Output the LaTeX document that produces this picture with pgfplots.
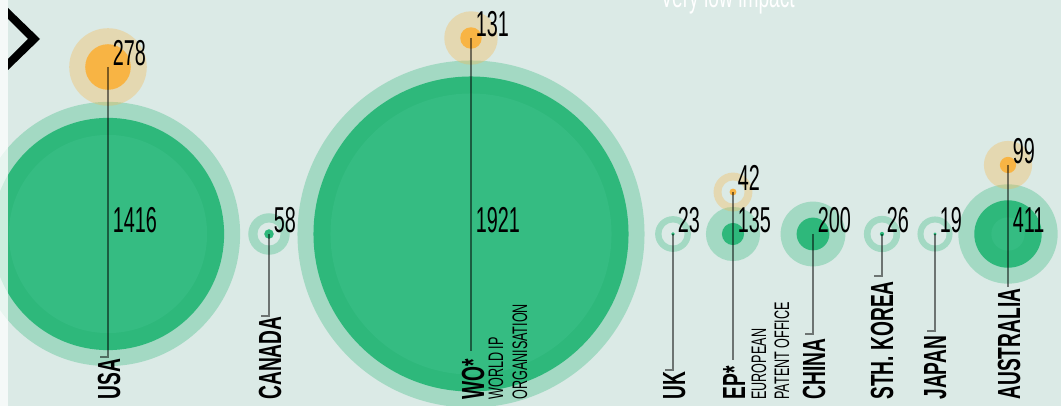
\documentclass[border=0pt]{standalone}
\usepackage{pgfplots}
\pgfplotsset{compat=1.18}
\usepackage{pgfplotstable}
\usepackage{fontspec}
\setmainfont{Liberation Sans}
\newfontfamily\numfont[FakeStretch=0.55]{Liberation Sans}
\newfontfamily\labfont[FakeStretch=0.6]{Liberation Sans Bold}
\newfontfamily\smallfont[FakeStretch=0.6]{Liberation Sans}
\definecolor{bgc}{HTML}{DBEAE6}
\definecolor{grn}{HTML}{2EB87B}
\definecolor{grnin}{HTML}{35BC82}
\definecolor{org}{HTML}{F8B444}

% x, y in pixels (y from top); v = value, bubble radius = 0.082 px per unit
\pgfplotstableread{
name x y v
USA 108 234 1416
CAN 269 234 58
WO 471 234 1921
UK 673 234 23
EP 733 234 135
CHN 813 234 200
KOR 882 234 26
JPN 935 234 19
AUS 1008 234 411
}\greentab
\pgfplotstableread{
name x y v
USA 108 67 278
WO 471 38 131
EP 733 192 42
AUS 1008 165 99
}\orangetab

\pgfplotsset{
  bub/.style 2 args={scatter, only marks, mark=*, point meta=\thisrow{v},
    visualization depends on={\thisrow{v} \as \val},
    scatter/use mapped color={draw opacity=0, line width=0pt, fill=#1, fill opacity=#2}},
  leader/.style={no marks, draw=black, draw opacity=0.5, line width=0.6pt},
  numlab/.style={only marks, mark=none, point meta=explicit symbolic,
    nodes near coords, nodes near coords align={anchor=base west},
    every node near coord/.append style={anchor=base west, inner sep=0pt,
      xshift=2.25pt, yshift=0.6pt, text=black,
      font=\numfont\fontsize{18}{20}\selectfont}},
}

\begin{document}
\begin{tikzpicture}
\begin{axis}[
  scale only axis, width=530.5pt, height=203pt,
  xmin=0, xmax=1061, ymin=0, ymax=406, y dir=reverse,
  axis line style={draw=none}, ticks=none,
  axis background/.style={fill=bgc},
  clip=true, clip marker paths=true,
]
% light halos (green)
\addplot[bub={grn}{0.32},
  scatter/@pre marker code/.append style={/tikz/mark size={\val*0.041+8}}]
  table[x=x,y=y]{\greentab};
% hollow centres for small values
\addplot[bub={bgc}{1}, restrict expr to domain={\thisrow{v}}{0:60},
  scatter/@pre marker code/.append style={/tikz/mark size=5.75}]
  table[x=x,y=y]{\greentab};
% light halos (orange)
\addplot[bub={org}{0.32},
  scatter/@pre marker code/.append style={/tikz/mark size={\val*0.041+8}}]
  table[x=x,y=y]{\orangetab};
\addplot[bub={bgc}{1}, restrict expr to domain={\thisrow{v}}{0:60},
  scatter/@pre marker code/.append style={/tikz/mark size=5.75}]
  table[x=x,y=y]{\orangetab};
% solid discs
\addplot[bub={grn}{1},
  scatter/@pre marker code/.append style={/tikz/mark size={\val*0.041}}]
  table[x=x,y=y]{\greentab};
\addplot[bub={grnin}{1}, restrict expr to domain={\thisrow{v}}{300:5000},
  scatter/@pre marker code/.append style={/tikz/mark size={\val*0.041-8.5}}]
  table[x=x,y=y]{\greentab};
\addplot[bub={org}{1},
  scatter/@pre marker code/.append style={/tikz/mark size={\val*0.041}}]
  table[x=x,y=y]{\orangetab};
% leader lines
\addplot[leader] coordinates {(108,67) (108,357) (100,357)};
\addplot[leader] coordinates {(269,234) (269,316) (261,316)};
\addplot[leader] coordinates {(471,38) (471,351)};
\addplot[leader] coordinates {(673,234) (673,370) (665,370)};
\addplot[leader] coordinates {(733,192) (733,360)};
\addplot[leader] coordinates {(813,234) (813,334) (805,334)};
\addplot[leader] coordinates {(882,234) (882,276) (874,276)};
\addplot[leader] coordinates {(935,234) (935,331) (927,331)};
\addplot[leader] coordinates {(1008,165) (1008,287)};
% value labels
\addplot[numlab] table[x=x,y=y,meta=v]{\greentab};
\addplot[numlab] table[x=x,y=y,meta=v]{\orangetab};
% left strip and chevron
\addplot[draw=none, fill=white, fill opacity=0.75] coordinates {(0,0) (8,0) (8,406) (0,406)};
\addplot[draw=none, fill=black] coordinates {(8,8) (40,39) (8,70) (8,59) (28,39) (8,19)};
% country labels
\begin{scope}[every node/.style={rotate=90, anchor=base west, inner sep=0pt, text=black}]
\node[font=\labfont\fontsize{16}{18}\selectfont] at (axis cs:120,400) {USA};
\node[font=\labfont\fontsize{16}{18}\selectfont] at (axis cs:281,400) {CANADA};
\node[font=\labfont\fontsize{16}{18}\selectfont] at (axis cs:484,400) {WO*};
\node[font=\smallfont\fontsize{10.5}{12}\selectfont] at (axis cs:503,400) {WORLD IP};
\node[font=\smallfont\fontsize{10.5}{12}\selectfont] at (axis cs:527,400) {ORGANISATION};
\node[font=\labfont\fontsize{16}{18}\selectfont] at (axis cs:685,400) {UK};
\node[font=\labfont\fontsize{16}{18}\selectfont] at (axis cs:745,400) {EP*};
\node[font=\smallfont\fontsize{10.5}{12}\selectfont] at (axis cs:766,400) {EUROPEAN};
\node[font=\smallfont\fontsize{10.5}{12}\selectfont] at (axis cs:789,400) {PATENT OFFICE};
\node[font=\labfont\fontsize{16}{18}\selectfont] at (axis cs:825,400) {CHINA};
\node[font=\labfont\fontsize{16}{18}\selectfont] at (axis cs:893,400) {STH. KOREA};
\node[font=\labfont\fontsize{16}{18}\selectfont] at (axis cs:946,400) {JAPAN};
\node[font=\labfont\fontsize{16}{18}\selectfont] at (axis cs:1020,400) {AUSTRALIA};
\end{scope}
\node[anchor=base west, inner sep=0pt, text=white,
  font=\smallfont\fontsize{16}{18}\selectfont] at (axis cs:660,8) {Very low impact};
\end{axis}
\pgfresetboundingbox
\path (current axis.south west) rectangle (current axis.north east);
\end{tikzpicture}
\end{document}
